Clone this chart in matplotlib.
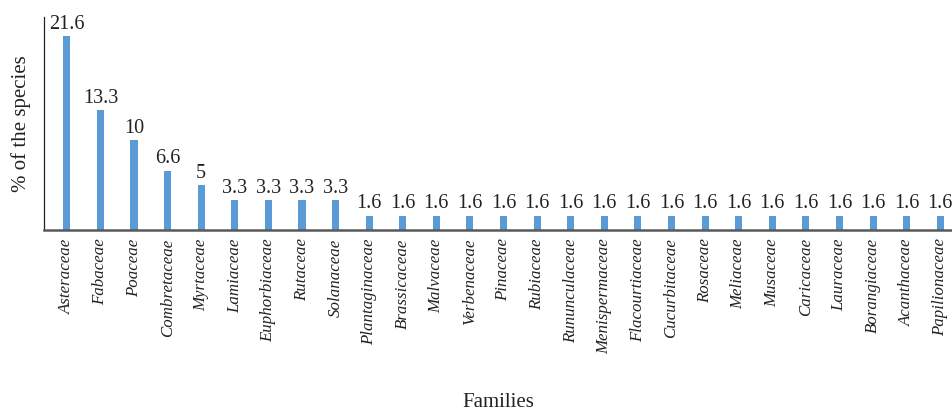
import matplotlib
matplotlib.use("Agg")
import matplotlib.pyplot as plt

families = ["Asteraceae", "Fabaceae", "Poaceae", "Combretaceae", "Myrtaceae",
            "Lamiaceae", "Euphorbiaceae", "Rutaceae", "Solanaceae",
            "Plantaginaceae", "Brassicaceae", "Malvaceae", "Verbenaceae",
            "Pinaceae", "Rubiaceae", "Rununculaceae", "Menispermaceae",
            "Flacourtiaceae", "Cucurbitaceae", "Rosaceae", "Meliaceae",
            "Musaceae", "Caricaceae", "Lauraceae", "Borangiaceae",
            "Acanthaceae", "Papilionaceae"]
percent = [21.6, 13.3, 10, 6.6, 5, 3.3, 3.3, 3.3, 3.3] + [1.6] * 18
labels = ["21.6", "13.3", "10", "6.6", "5", "3.3", "3.3", "3.3", "3.3"] + ["1.6"] * 18

plt.rcParams['font.family'] = ['Liberation Serif', 'DejaVu Serif']

fig = plt.figure(figsize=(9.52, 4.13), dpi=100)
ax = fig.add_axes([0.0462, 0.443, 0.9538, 0.516])

x = list(range(len(families)))
bars = ax.bar(x, percent, width=0.21, color='#5B9BD5', zorder=2)
for b, t in zip(bars, labels):
    ax.text(b.get_x() + b.get_width() / 2, b.get_height() + 0.25, t,
            ha='center', va='bottom', fontsize=14.5, color='#222222')

ax.set_xlim(-0.68, 26.35)
ax.set_ylim(0, 23.7)
ax.set_xticks(x)
ax.set_xticklabels(families, rotation=90, style='italic', fontsize=12.2,
                   color='#222222')
ax.tick_params(axis='x', length=0, pad=6)
ax.set_yticks([])

ax.spines['top'].set_visible(False)
ax.spines['right'].set_visible(False)
ax.spines['left'].set_color('#222222')
ax.spines['left'].set_linewidth(0.9)
ax.spines['bottom'].set_color('#595959')
ax.spines['bottom'].set_linewidth(1.8)

ax.set_ylabel('% of the species', fontsize=15, color='#222222', labelpad=9)
fig.text(0.523, 0.003, 'Families', ha='center', va='bottom', fontsize=15,
         color='#222222')

fig.savefig('out.png', dpi=100)
